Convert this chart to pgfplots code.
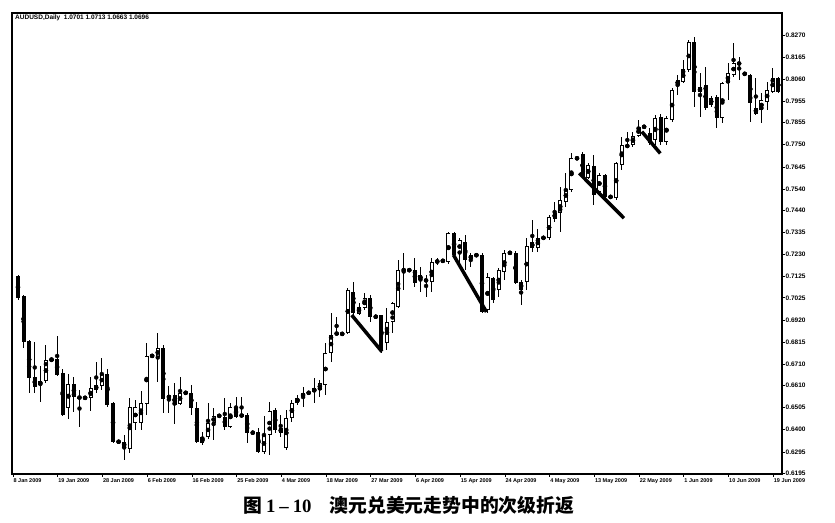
\documentclass[border=0pt]{standalone}
\usepackage{pgfplots}
\usepackage{pgfplotstable}
\pgfplotsset{compat=1.18}
\usepackage{fontspec}
\setmainfont{Liberation Sans}
\newfontfamily\cjk{Noto Sans CJK SC}
\newfontfamily\capserif{Liberation Serif}

% AUDUSD daily candles, index j = bar number from the left edge
\pgfplotstableread{
j o h l c
0 0.7128 0.7133 0.7015 0.7024
1 0.7034 0.7038 0.6787 0.6816
2 0.6820 0.6825 0.6574 0.6645
3 0.6650 0.6816 0.6574 0.6602
4 0.6612 0.6702 0.6531 0.6631
5 0.6631 0.6801 0.6621 0.6730
6 0.6730 0.6740 0.6721 0.6735
7 0.6735 0.6844 0.6655 0.6659
8 0.6669 0.6688 0.6465 0.6470
9 0.6503 0.6664 0.6451 0.6617
10 0.6617 0.6650 0.6484 0.6555
11 0.6555 0.6588 0.6413 0.6550
12 0.6550 0.6555 0.6548 0.6552
13 0.6550 0.6650 0.6489 0.6598
14 0.6588 0.6721 0.6574 0.6612
15 0.6607 0.6740 0.6588 0.6664
16 0.6664 0.6688 0.6508 0.6517
17 0.6527 0.6529 0.6337 0.6342
18 0.6342 0.6347 0.6340 0.6344
19 0.6344 0.6375 0.6257 0.6314
20 0.6309 0.6550 0.6290 0.6508
21 0.6432 0.6541 0.6399 0.6508
22 0.6432 0.6583 0.6399 0.6527
23 0.6522 0.6811 0.6470 0.6749
24 0.6749 0.6754 0.6746 0.6751
25 0.6745 0.6858 0.6626 0.6787
26 0.6787 0.6801 0.6479 0.6546
27 0.6546 0.6607 0.6479 0.6565
28 0.6565 0.6621 0.6427 0.6517
29 0.6522 0.6650 0.6517 0.6574
30 0.6574 0.6579 0.6571 0.6576
31 0.6574 0.6612 0.6470 0.6503
32 0.6503 0.6531 0.6337 0.6342
33 0.6337 0.6389 0.6328 0.6366
34 0.6366 0.6527 0.6356 0.6432
35 0.6432 0.6503 0.6351 0.6465
36 0.6465 0.6470 0.6462 0.6467
37 0.6460 0.6550 0.6399 0.6413
38 0.6413 0.6527 0.6408 0.6508
39 0.6508 0.6555 0.6456 0.6460
40 0.6475 0.6555 0.6456 0.6460
41 0.6470 0.6479 0.6337 0.6385
42 0.6385 0.6390 0.6382 0.6387
43 0.6389 0.6408 0.6290 0.6295
44 0.6295 0.6465 0.6285 0.6375
45 0.6375 0.6531 0.6280 0.6489
46 0.6494 0.6503 0.6385 0.6399
47 0.6385 0.6470 0.6366 0.6408
48 0.6314 0.6494 0.6304 0.6456
49 0.6456 0.6541 0.6437 0.6527
50 0.6527 0.6565 0.6517 0.6550
51 0.6555 0.6602 0.6508 0.6574
52 0.6574 0.6579 0.6571 0.6576
53 0.6579 0.6645 0.6527 0.6598
54 0.6588 0.6636 0.6555 0.6621
55 0.6612 0.6811 0.6565 0.6763
56 0.6763 0.6953 0.6721 0.6849
57 0.6858 0.6934 0.6849 0.6853
58 0.6853 0.6858 0.6850 0.6855
59 0.6858 0.7071 0.6853 0.7062
60 0.7052 0.7100 0.6943 0.6953
61 0.6950 0.7000 0.6943 0.6981
62 0.6977 0.7048 0.6967 0.7024
63 0.7024 0.7038 0.6910 0.6934
64 0.6934 0.6940 0.6931 0.6937
65 0.6943 0.6945 0.6763 0.6778
66 0.6811 0.6977 0.6778 0.6910
67 0.6910 0.7005 0.6858 0.7000
68 0.6981 0.7204 0.6977 0.7157
69 0.7160 0.7237 0.7062 0.7153
70 0.7155 0.7160 0.7152 0.7157
71 0.7157 0.7214 0.7076 0.7095
72 0.7133 0.7171 0.7052 0.7109
73 0.7109 0.7133 0.7029 0.7106
74 0.7100 0.7214 0.7052 0.7195
75 0.7195 0.7214 0.7180 0.7199
76 0.7199 0.7204 0.7197 0.7201
77 0.7195 0.7337 0.7185 0.7332
78 0.7332 0.7337 0.7218 0.7228
79 0.7237 0.7308 0.7171 0.7299
80 0.7289 0.7322 0.7157 0.7204
81 0.7207 0.7237 0.7171 0.7228
82 0.7226 0.7231 0.7223 0.7228
83 0.7228 0.7237 0.6953 0.6958
84 0.6967 0.7142 0.6953 0.7123
85 0.7119 0.7123 0.7000 0.7015
86 0.7062 0.7166 0.7029 0.7157
87 0.7147 0.7251 0.7109 0.7237
88 0.7237 0.7242 0.7234 0.7239
89 0.7237 0.7247 0.7090 0.7095
90 0.7100 0.7109 0.6991 0.7062
91 0.7100 0.7308 0.7062 0.7270
92 0.7289 0.7394 0.7242 0.7261
93 0.7261 0.7351 0.7242 0.7308
94 0.7308 0.7313 0.7305 0.7310
95 0.7308 0.7417 0.7299 0.7408
96 0.7400 0.7479 0.7384 0.7427
97 0.7427 0.7550 0.7337 0.7488
98 0.7479 0.7616 0.7455 0.7540
99 0.7536 0.7711 0.7526 0.7687
100 0.7687 0.7690 0.7682 0.7685
101 0.7706 0.7716 0.7592 0.7597
102 0.7592 0.7663 0.7588 0.7654
103 0.7649 0.7701 0.7464 0.7512
104 0.7526 0.7616 0.7517 0.7607
105 0.7607 0.7611 0.7493 0.7502
106 0.7502 0.7507 0.7499 0.7504
107 0.7498 0.7668 0.7488 0.7663
108 0.7654 0.7787 0.7630 0.7749
109 0.7738 0.7810 0.7735 0.7750
110 0.7749 0.7810 0.7739 0.7791
111 0.7791 0.7867 0.7787 0.7834
112 0.7834 0.7839 0.7831 0.7836
113 0.7806 0.7829 0.7749 0.7758
114 0.7772 0.7891 0.7749 0.7877
115 0.7881 0.7895 0.7749 0.7763
116 0.7763 0.7886 0.7749 0.7877
117 0.7867 0.8019 0.7858 0.8009
118 0.8031 0.8080 0.7986 0.8057
119 0.8047 0.8151 0.8042 0.8109
120 0.8104 0.8246 0.8095 0.8237
121 0.8237 0.8260 0.7929 0.8000
122 0.7998 0.8090 0.7881 0.8023
123 0.8033 0.8118 0.7915 0.7924
124 0.7938 0.7981 0.7929 0.7971
125 0.7976 0.7986 0.7829 0.7877
126 0.7877 0.8047 0.7853 0.8042
127 0.8042 0.8137 0.7962 0.8090
128 0.8080 0.8232 0.8071 0.8137
129 0.8142 0.8166 0.8057 0.8128
130 0.8085 0.8090 0.8082 0.8087
131 0.8080 0.8085 0.7858 0.7948
132 0.7898 0.8066 0.7891 0.7924
133 0.7915 0.7995 0.7853 0.7962
134 0.7953 0.8047 0.7915 0.8009
135 0.8000 0.8114 0.7995 0.8066
136 0.8066 0.8071 0.7995 0.8000
}\candles

\begin{document}
\begin{tikzpicture}
\useasboundingbox (0,0) rectangle (835pt,522pt);
\begin{axis}[
    at={(12pt,48pt)}, anchor=south west,
    scale only axis, width=770pt, height=461pt,
    xmin=-1.07, xmax=136.67,
    ymin=0.61903, ymax=0.83741,
    axis line style={line width=1.6pt},
    tick align=outside, major tick length=2.5pt,
    tick style={black, line width=0.6pt},
    xtick pos=left, ytick pos=right, yticklabel pos=right,
    xtick={-0.9,7.1,15.1,23.1,31.1,39.1,47.1,55.1,63.1,71.1,79.1,87.1,95.1,103.1,111.1,119.1,127.1,135.1},
    xticklabels={8 Jan 2009,19 Jan 2009,28 Jan 2009,6 Feb 2009,16 Feb 2009,25 Feb 2009,4 Mar 2009,18 Mar 2009,27 Mar 2009,6 Apr 2009,15 Apr 2009,24 Apr 2009,4 May 2009,13 May 2009,22 May 2009,1 Jun 2009,10 Jun 2009,19 Jun 2009},
    ytick={0.6195,0.6295,0.6400,0.6505,0.6610,0.6710,0.6815,0.6920,0.7025,0.7125,0.7230,0.7335,0.7440,0.7540,0.7645,0.7750,0.7855,0.7955,0.8060,0.8165,0.8270},
    yticklabels={0.6195,0.6295,0.6400,0.6505,0.6610,0.6710,0.6815,0.6920,0.7025,0.7125,0.7230,0.7335,0.7440,0.7540,0.7645,0.7750,0.7855,0.7955,0.8060,0.8165,0.8270},
    xticklabel style={font=\bfseries\fontsize{5.5}{6}\selectfont, anchor=north west, inner sep=0.5pt, yshift=-1.5pt},
    yticklabel style={font=\bfseries\fontsize{6.5}{7}\selectfont, inner sep=1pt},
]
% wicks
\addplot [only marks, mark=none,
    error bars/.cd, y dir=both, y explicit, error mark=none,
    error bar style={black, line width=0.9pt}]
    table [x=j, y expr={(\thisrow{h}+\thisrow{l})/2}, y error expr={(\thisrow{h}-\thisrow{l})/2}] {\candles};
% bodies
\addplot [only marks, mark=none,
    error bars/.cd, y dir=both, y explicit, error mark=none,
    error bar style={black, line width=4pt}]
    table [x=j, y expr={(\thisrow{o}+\thisrow{c})/2}, y error expr={max(abs(\thisrow{c}-\thisrow{o})/2,0.0003)}] {\candles};
% hollow inside of rising candles
\addplot [only marks, mark=none,
    error bars/.cd, y dir=both, y explicit, error mark=none,
    error bar style={white, line width=2.3pt}]
    table [x=j, y expr={(\thisrow{o}+\thisrow{c})/2}, y error expr={max((\thisrow{c}-\thisrow{o})/2-0.00036,0)}] {\candles};
% secondary reactions
\addplot [black, line width=3.5pt] coordinates {(59.7,0.6943) (65.1,0.6770)};
\addplot [black, line width=3.5pt] coordinates {(77.9,0.7228) (83.8,0.6958)};
\addplot [black, line width=3.5pt] coordinates {(100.4,0.7615) (108.4,0.7402)};
\addplot [black, line width=3.5pt] coordinates {(111.6,0.7812) (114.9,0.7709)};
\end{axis}
\node [anchor=west, inner sep=0pt, font=\bfseries\fontsize{6.5}{7}\selectfont] at (15pt,504pt)
    {AUDUSD,Daily\ \ 1.0701 1.0713 1.0663 1.0696};
\node [anchor=west, inner sep=0pt, font=\fontsize{18.8}{20}\selectfont] at (243pt,17pt)
    {{\cjk\bfseries 图}\hspace{4pt}{\capserif\bfseries 1\hspace{4pt}–\hspace{4pt}10}\hspace{18pt}{\cjk\bfseries 澳元兑美元走势中的次级折返}};
\end{tikzpicture}
\end{document}
